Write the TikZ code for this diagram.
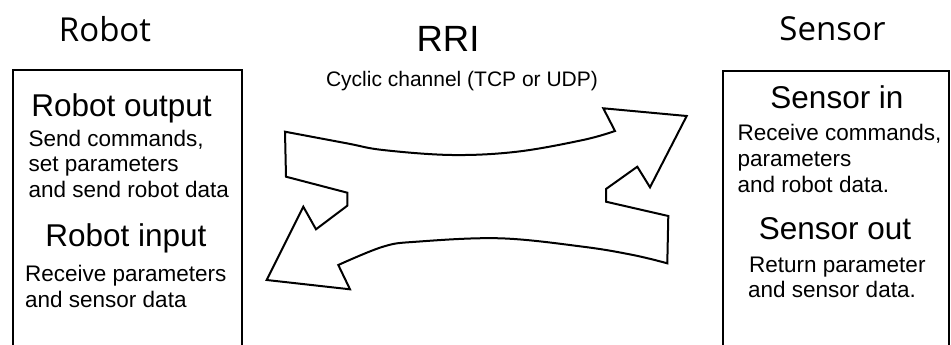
\documentclass[tikz,border=0pt]{standalone}
\usepackage{fontspec}
\setmainfont{Liberation Sans}
\newfontfamily\headfont{Open Sans}
\begin{document}
\begin{tikzpicture}[x=1pt,y=-1pt,
  title/.style={font=\headfont\fontsize{33}{36}\selectfont, anchor=base, inner sep=0pt},
  heading/.style={font=\fontsize{31.5}{34}\selectfont, anchor=base, inner sep=0pt},
  body/.style={font=\fontsize{22.5}{25}\selectfont, anchor=base west, inner sep=0pt},
  panel/.style={draw=black, line width=2pt},
  channel/.style={draw=black, line width=2pt, line join=miter, fill=white}]
\clip (0,0) rectangle (951,345);
\fill[white] (0,0) rectangle (951,345);

% boxes
\draw[panel] (13,70.5) rectangle (242,370);
\draw[panel] (723,71) rectangle (949,370);

% titles
\node[title] (trobot) at (105,42) {Robot};
\node[title] (tsensor) at (832.5,41) {Sensor};
\node[font=\fontsize{36.5}{40}\selectfont, anchor=base, inner sep=0pt] (rri) at (448,52) {RRI};
\node[font=\fontsize{21}{24}\selectfont, anchor=base, inner sep=0pt] (cyc) at (462,87) {Cyclic channel (TCP or UDP)};

% robot box text
\node[heading] (rout) at (121.5,117) {Robot output};
\node[body] (r1) at (28.5,146) {Send commands,};
\node[body] (r2) at (28.5,171) {set parameters};
\node[body] (r3) at (28.5,197) {and send robot data};
\node[heading] (rin) at (126,246) {Robot input};
\node[body] (r4) at (25,281) {Receive parameters};
\node[body] (r5) at (25,307) {and sensor data};

% sensor box text
\node[heading] (sin) at (837,108) {Sensor in};
\node[body] (s1) at (737.5,140) {Receive commands,};
\node[body] (s2) at (737.5,166) {parameters};
\node[body] (s3) at (737.5,192) {and robot data.};
\node[heading] (sout) at (835,239) {Sensor out};
\node[body] (s4) at (749,272) {Return parameter};
\node[body] (s5) at (748,297) {and sensor data.};

% double arrow channel
\draw[channel]
  plot[smooth, tension=0.6] coordinates {(285,131.7) (346.7,143.3) (383,150) (452,155) (517,151.7) (583,140) (615,131)}
  -- (603.3,108.3) -- (686.7,116) -- (650,187.3) -- (637.3,166.7) -- (606,189) -- (606,201.7)
  -- (668.3,216) -- (667.3,263.3)
  -- plot[smooth, tension=0.6] coordinates {(667.3,263.3) (633,255) (583,246.7) (500,238.3) (416.7,241.7) (383,246.7) (338.3,265)}
  -- (350,289.3) -- (266.7,280) -- (303.3,206.7) -- (316,229.3) -- (347.3,205.7) -- (347.3,192.7)
  -- (286,176.7) -- cycle;
\end{tikzpicture}
\end{document}
